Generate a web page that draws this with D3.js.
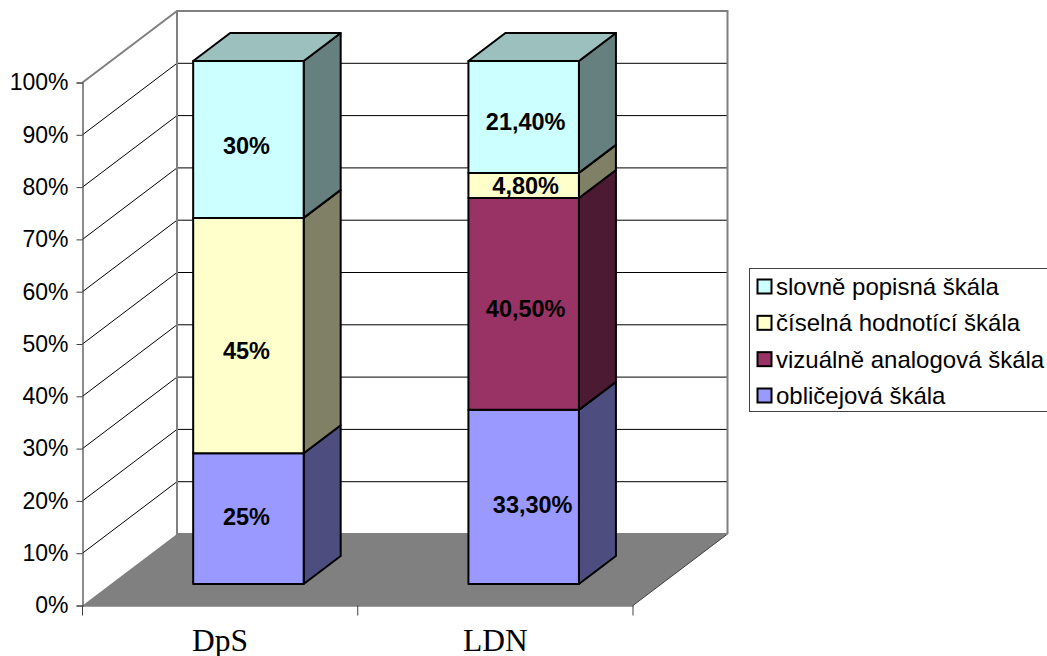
<!DOCTYPE html>
<html>
<head>
<meta charset="utf-8">
<script src="https://cdn.jsdelivr.net/npm/d3@7"></script>
<style>
  html, body { margin: 0; padding: 0; background: #fff; overflow: hidden; }
  svg { display: block; }
</style>
</head>
<body>
<svg id="chart" width="1047" height="656"></svg>
<script>
// Stacked percentage columns per facility, values in percent
const categories = ["DpS", "LDN"];
const seriesNames = ["obličejová škála", "vizuálně analogová škála", "číselná hodnotící škála", "slovně popisná škála"];
const dpsValues = [25, 0, 45, 30];
const ldnValues = [33.3, 40.5, 4.8, 21.4];
const dpsLabels = ["25%", "", "45%", "30%"];
const ldnLabels = ["33,30%", "40,50%", "4,80%", "21,40%"];
const yTicks = [0, 10, 20, 30, 40, 50, 60, 70, 80, 90, 100];

// Series palette: front, side and top faces of each column
const frontColors = ["#9999FF", "#993366", "#FFFFCC", "#CCFFFF"];
const sideColors = ["#4D4D80", "#4D1A33", "#808066", "#668080"];
const topColors = ["#7373BF", "#732650", "#BFBF99", "#9BC0BE"];

// Hand placement of the data labels relative to segment centres
const labelNudge = [
  [[-2, -2], null, [-2, 15], [-2, 6]],
  [[9, 8], [2, 5], [2, 0], [2, 5]]
];

const svg = d3.select("#chart");

// Projection frame: front plane, plus the receding depth of the box
const frontLeft = 82.5, frontRight = 633, depthX = 94.5, depthY = 71.5;
const y = d3.scaleLinear().domain([0, 100]).range([605.5, 82.5]);
const x = d3.scaleBand().domain(categories).range([frontLeft, frontRight]);
const barWidth = 110.5, barDepthX = 37, barDepthY = 28, barShift = 28.3;
const barBase = 584, barTop = 61;
const barY = d3.scaleLinear().domain([0, 100]).range([barBase, barTop]);

const line = d3.line();
const poly = pts => line(pts) + "Z";

// Floor
svg.append("path")
  .attr("d", poly([[frontLeft, y(0)], [frontLeft + depthX, y(0) - depthY], [frontRight + depthX, y(0) - depthY], [frontRight, y(0)]]))
  .attr("fill", "#808080");
svg.append("path")
  .attr("d", line([[frontRight, y(0)], [frontRight + depthX, y(0) - depthY]]))
  .attr("fill", "none").attr("stroke", "#404040").attr("stroke-width", 1);

// Gridlines on the side wall and back wall
const grid = svg.append("g").attr("fill", "none").attr("stroke", "#000").attr("stroke-width", 1);
yTicks.filter(t => t > 0 && t < 100).forEach(t => {
  grid.append("path").attr("d", line([
    [frontLeft, y(t)],
    [frontLeft + depthX, y(t) - depthY],
    [frontRight + depthX, y(t) - depthY]
  ]));
});

// Wall outline
svg.append("path")
  .attr("d", line([
    [frontLeft, y(100)],
    [frontLeft + depthX, y(100) - depthY],
    [frontRight + depthX, y(100) - depthY],
    [frontRight + depthX, y(0) - depthY]
  ]))
  .attr("fill", "none").attr("stroke", "#808080").attr("stroke-width", 2);
svg.append("path")
  .attr("d", line([
    [frontLeft + depthX, y(100) - depthY],
    [frontLeft + depthX, y(0) - depthY],
    [frontRight + depthX, y(0) - depthY]
  ]))
  .attr("fill", "none").attr("stroke", "#808080").attr("stroke-width", 2);

// Axes
const yAxis = svg.append("g")
  .attr("transform", `translate(${frontLeft},0)`)
  .call(d3.axisLeft(y).tickValues(yTicks).tickFormat(d => d + "%").tickSize(6).tickPadding(8));
const xAxis = svg.append("g")
  .attr("transform", `translate(0,${y(0)})`)
  .call(d3.axisBottom(x).tickSize(0).tickPadding(23));
[frontLeft, (frontLeft + frontRight) / 2, frontRight].forEach(px => {
  xAxis.append("line").attr("x1", px).attr("x2", px).attr("y1", 0).attr("y2", 10).attr("stroke", "#404040");
});
svg.selectAll(".domain").attr("stroke", "#404040").attr("stroke-width", 1.2);
yAxis.selectAll(".tick line").attr("stroke", "#404040");
yAxis.selectAll("text").attr("font-family", "'Liberation Sans', Arial, sans-serif").attr("font-size", 23).attr("fill", "#000");
xAxis.selectAll(".tick text")
  .attr("font-family", "'Liberation Serif', 'Times New Roman', serif")
  .attr("font-size", 31.5).attr("fill", "#000");

// Columns
const stacks = [dpsValues, ldnValues];
const labels = [dpsLabels, ldnLabels];
categories.forEach((cat, ci) => {
  const bx = x(cat) + (x.bandwidth() - barWidth) / 2 + barShift;
  const g = svg.append("g").attr("stroke", "#000").attr("stroke-width", 2).attr("stroke-linejoin", "round");
  let acc = 0;
  const segs = [];
  stacks[ci].forEach((v, si) => {
    if (v > 0) segs.push({ si, from: acc, to: acc + v, text: labels[ci][si] });
    acc += v;
  });
  segs.forEach(s => {
    const y0 = barY(s.from), y1 = barY(s.to);
    g.append("path").attr("fill", sideColors[s.si]).attr("d", poly([
      [bx + barWidth, y0], [bx + barWidth + barDepthX, y0 - barDepthY],
      [bx + barWidth + barDepthX, y1 - barDepthY], [bx + barWidth, y1]
    ]));
    g.append("rect").attr("x", bx).attr("y", y1).attr("width", barWidth).attr("height", y0 - y1)
      .attr("fill", frontColors[s.si]);
  });
  const last = segs[segs.length - 1];
  const yt = barY(last.to);
  g.append("path").attr("fill", topColors[last.si]).attr("d", poly([
    [bx, yt], [bx + barDepthX, yt - barDepthY], [bx + barWidth + barDepthX, yt - barDepthY], [bx + barWidth, yt]
  ]));
  segs.forEach(s => {
    const nudge = labelNudge[ci][s.si];
    svg.append("text")
      .attr("x", bx + barWidth / 2 + nudge[0])
      .attr("y", (barY(s.from) + barY(s.to)) / 2 + nudge[1])
      .attr("dy", "0.35em")
      .attr("text-anchor", "middle")
      .attr("font-family", "'Liberation Sans', Arial, sans-serif")
      .attr("font-weight", "bold").attr("font-size", 23.5).attr("fill", "#000")
      .text(s.text);
  });
});

// Legend, listed from the top of the stack downwards
const legend = svg.append("g");
legend.append("rect")
  .attr("x", 749.5).attr("y", 268.5).attr("width", 320).attr("height", 143)
  .attr("fill", "#fff").attr("stroke", "#404040").attr("stroke-width", 1);
const legendRow = d3.scalePoint().domain(d3.range(4)).range([286.5, 395.5]);
seriesNames.slice().reverse().forEach((name, i) => {
  const color = frontColors[seriesNames.length - 1 - i];
  legend.append("rect")
    .attr("x", 757.5).attr("y", legendRow(i) - 7).attr("width", 14).attr("height", 14)
    .attr("fill", color).attr("stroke", "#000").attr("stroke-width", 2);
  legend.append("text")
    .attr("x", 776).attr("y", legendRow(i)).attr("dy", "0.35em")
    .attr("font-family", "'Liberation Sans', Arial, sans-serif")
    .attr("font-size", 24).attr("fill", "#000")
    .text(name);
});
</script>
</body>
</html>
